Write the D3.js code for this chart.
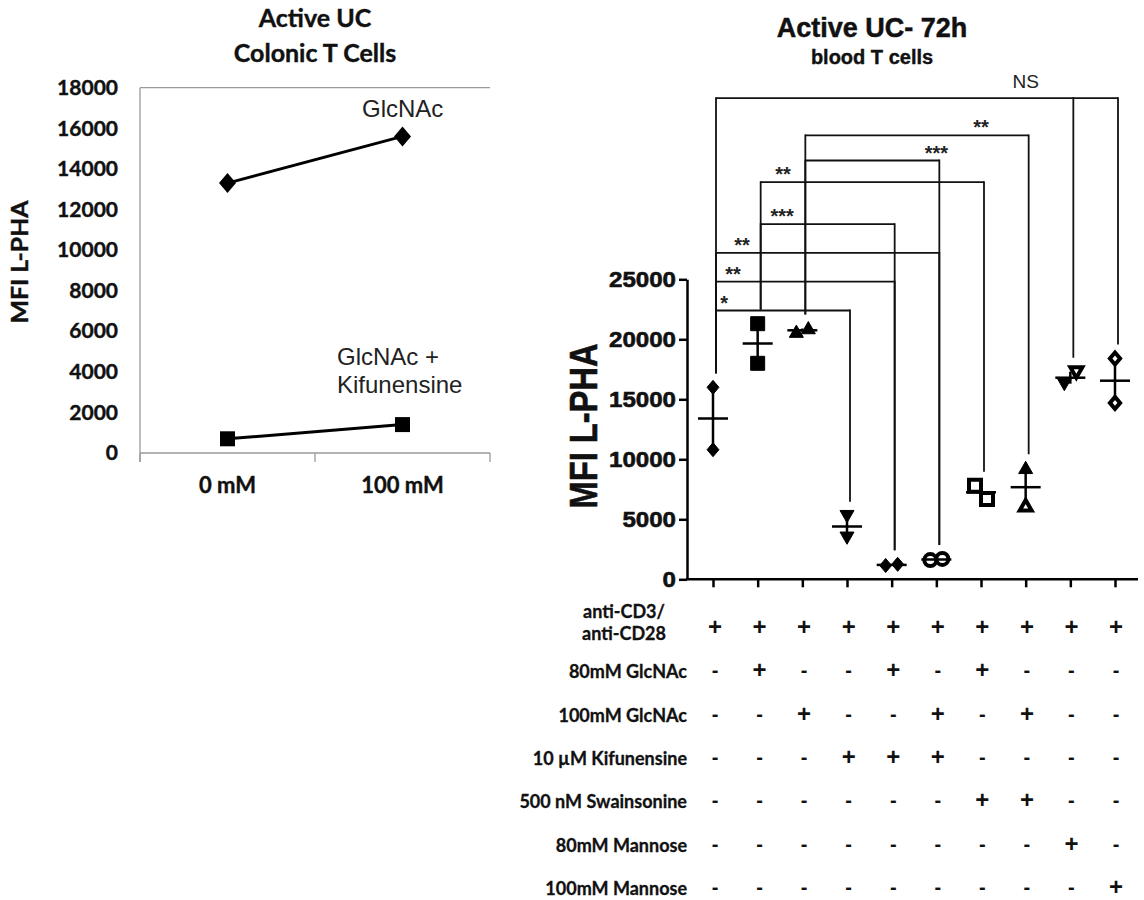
<!DOCTYPE html>
<html><head><meta charset="utf-8">
<script src="https://cdn.jsdelivr.net/npm/d3@7"></script>
<style>body{margin:0;background:#fff}</style>
</head><body>
<svg id="c" width="1144" height="900" xmlns="http://www.w3.org/2000/svg"></svg>
<script>
// ---------- LEFT PANEL DATA ----------
const leftTitle = ["Active UC", "Colonic T Cells"];
const leftCategories = ["0 mM", "100 mM"];
const glcnacValues = [13300, 15600];
const glcnacKifValues = [700, 1400];
const leftYTicks = [0, 2000, 4000, 6000, 8000, 10000, 12000, 14000, 16000, 18000];
const leftYLabel = "MFI L-PHA";

// ---------- RIGHT PANEL DATA ----------
const rightTitle = ["Active UC- 72h", "blood T cells"];
const rightYLabel = "MFI L-PHA";
const conditions = [0, 1, 2, 3, 4, 5, 6, 7, 8, 9];
const conditionValues = [
  [16000, 10800],
  [21300, 18000],
  [20600, 20900],
  [5300, 3500],
  [1150, 1250],
  [1600, 1700],
  [7800, 6700],
  [9250, 6100],
  [16300, 17300],
  [18400, 14700]
];
const conditionShapes = ["diamond", "square", "triangle", "triangleDown", "diamond",
                         "circle", "square", "triangle", "triangleDown", "diamond"];
const conditionFilled = [[1,1],[1,1],[1,1],[1,1],[1,1],[0,0],[0,0],[1,0],[1,0],[0,0]];
const rightYTicks = [0, 5000, 10000, 15000, 20000, 25000];
// significance brackets: from/to condition index, legs, bracket level (MFI units), label, label position (condition index)
const brackets = [
  {from: 0, to: 9, legs: [0, 8, 9], level: 40100, label: "NS", at: 7},
  {from: 2, to: 7, legs: [2, 7], level: 37000, label: "**", at: 6},
  {from: 2, to: 5, legs: [2, 5], level: 34900, label: "***", at: 5},
  {from: 1, to: 6, legs: [1, 6], level: 33100, label: "**", at: 1.57},
  {from: 1, to: 4, legs: [1, 4], level: 29600, label: "***", at: 1.55},
  {from: 0, to: 5, legs: [0, 5], level: 27200, label: "**", at: 0.65},
  {from: 0, to: 4, legs: [0, 4], level: 24800, label: "**", at: 0.45},
  {from: 0, to: 3, legs: [0, 3], level: 22400, label: "*", at: 0.25}
];
const treatmentLabels = [["anti-CD3/", "anti-CD28"], ["80mM GlcNAc"], ["100mM GlcNAc"],
  ["10 µM Kifunensine"], ["500 nM Swainsonine"], ["80mM Mannose"], ["100mM Mannose"]];
const treatmentSigns = [
  "++++++++++",
  "-+--+-+---",
  "--+--+-+--",
  "---+++----",
  "------++--",
  "--------+-",
  "---------+"
];

// ---------- DRAW ----------
const svg = d3.select("#c");
const CAL = "Lato, 'Open Sans', sans-serif";
const ARI = "'Liberation Sans', Arial, sans-serif";

function shapePath(shape, r) {
  switch (shape) {
    case "diamond": return `M0,${-r}L${r*0.85},0L0,${r}L${-r*0.85},0Z`;
    case "square": return `M${-r},${-r}H${r}V${r}H${-r}Z`;
    case "triangle": return `M0,${-r}L${r},${r*0.75}L${-r},${r*0.75}Z`;
    case "triangleDown": return `M0,${r}L${r},${-r*0.75}L${-r},${-r*0.75}Z`;
    case "circle": return `M${r},0A${r},${r} 0 1,1 ${-r},0A${r},${r} 0 1,1 ${r},0Z`;
  }
}

// ===== LEFT =====
const lx = d3.scaleBand().domain(leftCategories).range([140, 490]);
const ly = d3.scaleLinear().domain([0, 18000]).range([453, 87.7]);
const L = svg.append("g");

L.selectAll("text.ltitle").data(leftTitle).join("text")
  .attr("x", 315).attr("y", (d, i) => 27 + i * 35)
  .attr("text-anchor", "middle").attr("font-family", CAL).attr("font-weight", 700)
  .attr("font-size", 25).attr("fill", "#111").attr("stroke", "#111").attr("stroke-width", 0.4).text(d => d);

// top border line
L.append("line").attr("x1", 140).attr("x2", 490).attr("y1", ly(18000)).attr("y2", ly(18000))
  .attr("stroke", "#9a9a9a").attr("stroke-width", 1.3);

const lyAxis = L.append("g").attr("transform", "translate(140,0)")
  .call(d3.axisLeft(ly).tickValues(leftYTicks).tickSize(0).tickPadding(22).tickFormat(d3.format("d")));
lyAxis.select(".domain").remove();
lyAxis.selectAll("text").attr("font-family", CAL).attr("font-weight", 700).attr("font-size", 21)
  .attr("fill", "#111").attr("stroke", "#111").attr("stroke-width", 0.4);
L.append("line").attr("x1", 140).attr("x2", 140).attr("y1", ly(18000)).attr("y2", ly(0) + 9)
  .attr("stroke", "#9a9a9a").attr("stroke-width", 1.3);

// x axis
L.append("line").attr("x1", 140).attr("x2", 490).attr("y1", ly(0)).attr("y2", ly(0))
  .attr("stroke", "#9a9a9a").attr("stroke-width", 1.3);
const bounds = leftCategories.map(c => lx(c)).concat([lx.range()[1]]);
L.selectAll("line.lxt").data(bounds).join("line").attr("class", "lxt")
  .attr("x1", d => d).attr("x2", d => d).attr("y1", ly(0)).attr("y2", ly(0) + 9)
  .attr("stroke", "#9a9a9a").attr("stroke-width", 1.3);
L.selectAll("text.lxl").data(leftCategories).join("text").attr("class", "lxl")
  .attr("x", d => lx(d) + lx.bandwidth() / 2).attr("y", 493)
  .attr("text-anchor", "middle").attr("font-family", CAL).attr("font-weight", 700)
  .attr("font-size", 22).attr("fill", "#111").attr("stroke", "#111").attr("stroke-width", 0.4).text(d => d);

L.append("text").attr("transform", "translate(28,262) rotate(-90)")
  .attr("text-anchor", "middle").attr("font-family", CAL).attr("font-weight", 700)
  .attr("font-size", 23).attr("textLength", 123).attr("lengthAdjust", "spacingAndGlyphs")
  .attr("fill", "#111").attr("stroke", "#111").attr("stroke-width", 0.4).text(leftYLabel);

const lline = d3.line().x((d, i) => lx(leftCategories[i]) + lx.bandwidth() / 2).y(d => ly(d));
[[glcnacValues, "diamond", 10], [glcnacKifValues, "square", 7.5]].forEach(([vals, shp, r]) => {
  L.append("path").attr("d", lline(vals)).attr("fill", "none").attr("stroke", "#000").attr("stroke-width", 3);
  L.selectAll(null).data(vals).join("path")
    .attr("transform", (d, i) => `translate(${lx(leftCategories[i]) + lx.bandwidth() / 2},${ly(d)})`)
    .attr("d", shapePath(shp, r)).attr("fill", "#000");
});

L.append("text").attr("x", 362).attr("y", 117).attr("font-family", ARI).attr("font-size", 24)
  .attr("fill", "#222").text("GlcNAc");
L.append("text").attr("x", 337).attr("y", 365).attr("font-family", ARI).attr("font-size", 24)
  .attr("fill", "#222").text("GlcNAc +");
L.append("text").attr("x", 337).attr("y", 393).attr("font-family", ARI).attr("font-size", 24)
  .attr("fill", "#222").text("Kifunensine");

// ===== RIGHT =====
const rx = d3.scalePoint().domain(conditions).range([713, 1115]);
const rxi = d3.scaleLinear().domain([0, 9]).range(rx.range());
const ry = d3.scaleLinear().domain([0, 25000]).range([579.3, 279.3]);
const R = svg.append("g");

R.append("text").attr("x", 872).attr("y", 37).attr("text-anchor", "middle")
  .attr("font-family", ARI).attr("font-weight", 700).attr("font-size", 27).attr("fill", "#111")
  .attr("stroke", "#111").attr("stroke-width", 0.5).text(rightTitle[0]);
R.append("text").attr("x", 872).attr("y", 64).attr("text-anchor", "middle")
  .attr("font-family", ARI).attr("font-weight", 700).attr("font-size", 20).attr("fill", "#111")
  .attr("stroke", "#111").attr("stroke-width", 0.4).text(rightTitle[1]);

const ryAxis = R.append("g").attr("transform", "translate(687,0)")
  .call(d3.axisLeft(ry).tickValues(rightYTicks).tickSize(8).tickSizeOuter(0).tickPadding(3).tickFormat(d3.format("d")));
ryAxis.select(".domain").attr("stroke", "#000").attr("stroke-width", 2.5);
ryAxis.selectAll(".tick line").attr("stroke", "#000").attr("stroke-width", 2.5);
ryAxis.selectAll("text").attr("font-family", ARI).attr("font-weight", 700).attr("font-size", 22)
  .attr("fill", "#111").attr("stroke", "#111").attr("stroke-width", 0.6)
  .attr("textLength", d => String(d).length * 13.4).attr("lengthAdjust", "spacingAndGlyphs");

const rxAxis = R.append("g").attr("transform", `translate(0,${ry(0)})`)
  .call(d3.axisBottom(rx).tickSize(8).tickFormat(""));
rxAxis.select(".domain").remove();
rxAxis.selectAll(".tick line").attr("stroke", "#000").attr("stroke-width", 2.5);
R.append("line").attr("x1", 686).attr("x2", 1138).attr("y1", ry(0)).attr("y2", ry(0))
  .attr("stroke", "#000").attr("stroke-width", 2.5);

R.append("text").attr("transform", "translate(597,426) rotate(-90)")
  .attr("text-anchor", "middle").attr("font-family", ARI).attr("font-weight", 700)
  .attr("font-size", 38).attr("textLength", 165).attr("lengthAdjust", "spacingAndGlyphs")
  .attr("fill", "#111").attr("stroke", "#111").attr("stroke-width", 0.6).text(rightYLabel);

// brackets
const legX = c => rx(c) + 3;
const legBottom = c => ry(d3.max(conditionValues[c])) - 14;
brackets.forEach(b => {
  const yb = ry(b.level);
  R.append("line").attr("x1", legX(b.from)).attr("x2", legX(b.to)).attr("y1", yb).attr("y2", yb)
    .attr("stroke", "#111").attr("stroke-width", 1.8);
  b.legs.forEach(c => {
    R.append("line").attr("x1", legX(c)).attr("x2", legX(c)).attr("y1", yb - 0.9).attr("y2", legBottom(c))
      .attr("stroke", "#111").attr("stroke-width", 1.8);
  });
  const isNS = b.label === "NS";
  R.append("text").attr("x", rxi(b.at)).attr("y", isNS ? yb - 10 : yb - 1)
    .attr("text-anchor", "middle").attr("font-family", ARI)
    .attr("font-weight", isNS ? 400 : 700).attr("font-size", isNS ? 19 : 20)
    .attr("fill", "#222").text(b.label);
});

// data points
conditions.forEach(c => {
  const vals = conditionValues[c];
  const ys = vals.map(v => ry(v));
  const close = Math.abs(ys[0] - ys[1]) < 14;
  const xs = vals.map((v, i) => rx(c) + (close ? (i === 0 ? -6 : 6) : 0));
  const mean = d3.mean(vals);
  R.append("line").attr("x1", rx(c)).attr("x2", rx(c)).attr("y1", ry(d3.min(vals))).attr("y2", ry(d3.max(vals)))
    .attr("stroke", "#000").attr("stroke-width", 2.5);
  vals.forEach((v, i) => {
    const filled = conditionFilled[c][i];
    R.append("path").attr("transform", `translate(${xs[i]},${ys[i]})`)
      .attr("d", shapePath(conditionShapes[c], filled ? 7 : 6))
      .attr("fill", filled ? "#000" : "#fff").attr("stroke", "#000").attr("stroke-width", filled ? 1 : 4);
  });
  R.append("line").attr("x1", rx(c) - 15).attr("x2", rx(c) + 15).attr("y1", ry(mean)).attr("y2", ry(mean))
    .attr("stroke", "#000").attr("stroke-width", 2.5);
});

// treatment table
const tx = d3.scalePoint().domain(conditions).range([715, 1116]);
const ty = d3.scalePoint().domain(d3.range(treatmentLabels.length)).range([627, 887]);
treatmentLabels.forEach((lab, r) => {
  if (lab.length > 1) {
    lab.forEach((t, k) => {
      R.append("text").attr("x", 624).attr("y", ty(r) - 9 + k * 22).attr("text-anchor", "middle")
        .attr("font-family", CAL).attr("font-weight", 700).attr("font-size", 18).attr("fill", "#111")
        .attr("stroke", "#111").attr("stroke-width", 0.3).text(t);
    });
  } else {
    R.append("text").attr("x", 687).attr("y", ty(r) + 8).attr("text-anchor", "end")
      .attr("font-family", CAL).attr("font-weight", 700).attr("font-size", 18).attr("fill", "#111")
      .attr("stroke", "#111").attr("stroke-width", 0.3).text(lab[0]);
  }
  treatmentSigns[r].split("").forEach((s, c) => {
    R.append("text").attr("x", tx(c)).attr("y", ty(r) + (s === "+" ? 8 : 7)).attr("text-anchor", "middle")
      .attr("font-family", ARI).attr("font-size", s === "+" ? 24 : 20).attr("font-weight", 700)
      .attr("fill", "#111").text(s);
  });
});
</script>
</body></html>
